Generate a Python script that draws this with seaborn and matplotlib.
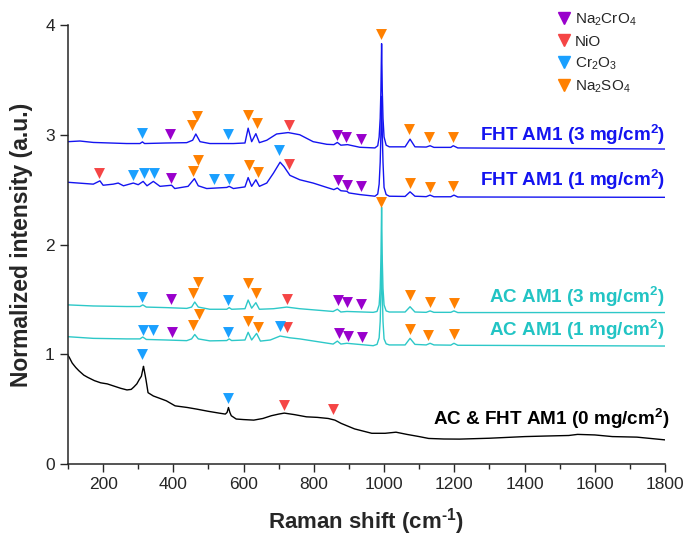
import matplotlib
matplotlib.use("Agg")
import matplotlib.pyplot as plt
import seaborn as sns
from matplotlib.lines import Line2D

# ---------------- data ----------------
# AC & FHT AM1 (0 mg/cm2) - black
bare_x = [100, 104, 112, 122, 131, 145, 156, 175, 193, 212, 231, 250, 268, 280, 287, 296, 303, 309, 313, 315,
          318, 322, 328, 343, 360, 380, 405, 440, 467, 500, 530, 548, 553, 557, 561, 565, 579, 600, 629, 655,
          679, 700, 716, 745, 779, 810, 841, 860, 878, 916, 965, 1003, 1034, 1065, 1100, 1127, 1170, 1215,
          1300, 1401, 1460, 1526, 1551, 1600, 1650, 1720, 1800]
bare_y = [0.99, 0.97, 0.92, 0.88, 0.85, 0.81, 0.79, 0.76, 0.74, 0.73, 0.71, 0.69, 0.675, 0.68, 0.70, 0.73, 0.77,
          0.80, 0.86, 0.89, 0.84, 0.77, 0.65, 0.62, 0.60, 0.576, 0.53, 0.515, 0.50, 0.48, 0.464, 0.455, 0.47,
          0.515, 0.47, 0.44, 0.41, 0.405, 0.40, 0.415, 0.44, 0.455, 0.464, 0.45, 0.43, 0.425, 0.415, 0.40,
          0.37, 0.32, 0.28, 0.28, 0.29, 0.27, 0.25, 0.233, 0.228, 0.227, 0.235, 0.25, 0.255, 0.26, 0.27, 0.265,
          0.25, 0.245, 0.22]

# AC AM1 (1 mg/cm2) - turquoise
ac1_x = [100, 172, 267, 305, 313, 323, 380, 438, 452, 461, 471, 504, 552, 559, 566, 604, 613, 623, 637, 648,
         676, 704, 732, 760, 855, 867, 877, 894, 969, 980, 986, 989, 991, 993, 995, 997, 1000, 1006, 1015,
         1060, 1074, 1088, 1120, 1131, 1142, 1190, 1199, 1210, 1800]
ac1_y = [1.16, 1.145, 1.14, 1.14, 1.157, 1.135, 1.13, 1.124, 1.14, 1.18, 1.14, 1.122, 1.125, 1.14, 1.125, 1.13,
         1.20, 1.13, 1.19, 1.12, 1.13, 1.166, 1.15, 1.14, 1.093, 1.12, 1.093, 1.10, 1.078, 1.09, 1.15, 1.3,
         1.55, 1.90, 1.55, 1.3, 1.14, 1.095, 1.085, 1.085, 1.145, 1.09, 1.085, 1.10, 1.085, 1.083, 1.10,
         1.082, 1.075]

# AC AM1 (3 mg/cm2) - turquoise
ac3_x = [100, 172, 267, 305, 313, 323, 380, 438, 452, 461, 471, 504, 552, 559, 566, 604, 613, 623, 635, 645,
         685, 723, 760, 855, 867, 877, 894, 969, 980, 986, 989, 991, 992, 993, 994, 995, 997, 1000, 1006,
         1015, 1060, 1074, 1088, 1120, 1131, 1142, 1190, 1199, 1210, 1800]
ac3_y = [1.45, 1.44, 1.435, 1.435, 1.45, 1.43, 1.425, 1.418, 1.43, 1.476, 1.43, 1.41, 1.41, 1.425, 1.41, 1.415,
         1.494, 1.42, 1.47, 1.41, 1.415, 1.43, 1.415, 1.39, 1.41, 1.385, 1.39, 1.382, 1.39, 1.45, 1.6, 1.85,
         2.1, 2.34, 2.1, 1.85, 1.6, 1.45, 1.395, 1.385, 1.385, 1.433, 1.385, 1.382, 1.395, 1.382, 1.382,
         1.395, 1.38, 1.38]

# FHT AM1 (1 mg/cm2) - blue
fht1_x = [100, 172, 191, 200, 229, 243, 258, 286, 300, 314, 325, 343, 362, 395, 404, 442, 460, 471, 495, 552,
          559, 571, 604, 613, 623, 635, 645, 666, 685, 704, 715, 732, 760, 798, 837, 857, 867, 877, 894, 900,
          931, 974, 982, 986, 989, 991, 993, 995, 997, 1000, 1006, 1015, 1060, 1074, 1088, 1120, 1131, 1142,
          1190, 1199, 1210, 1800]
fht1_y = [2.567, 2.55, 2.58, 2.54, 2.55, 2.56, 2.535, 2.56, 2.545, 2.575, 2.535, 2.575, 2.53, 2.54, 2.51, 2.53,
          2.60, 2.535, 2.51, 2.52, 2.53, 2.51, 2.525, 2.61, 2.53, 2.59, 2.53, 2.56, 2.65, 2.75, 2.71, 2.63,
          2.59, 2.56, 2.52, 2.50, 2.515, 2.49, 2.485, 2.47, 2.455, 2.44, 2.46, 2.55, 2.75, 3.0, 3.35, 3.0,
          2.75, 2.52, 2.455, 2.44, 2.438, 2.48, 2.44, 2.436, 2.45, 2.435, 2.435, 2.45, 2.433, 2.43]

# FHT AM1 (3 mg/cm2) - blue
fht3_x = [100, 134, 172, 267, 305, 312, 318, 380, 438, 455, 464, 476, 504, 571, 604, 613, 623, 635, 645, 666,
          694, 727, 760, 798, 837, 857, 867, 877, 896, 931, 974, 982, 986, 989, 991, 992, 993, 994, 995, 997,
          1000, 1006, 1015, 1060, 1074, 1088, 1120, 1131, 1142, 1190, 1197, 1210, 1800]
fht3_y = [2.937, 2.943, 2.93, 2.92, 2.92, 2.935, 2.92, 2.925, 2.928, 2.95, 3.007, 2.937, 2.92, 2.92, 2.925,
          3.06, 2.937, 3.01, 2.928, 2.95, 3.007, 3.02, 3.0, 2.937, 2.913, 2.91, 2.93, 2.905, 2.91, 2.886,
          2.88, 2.9, 2.98, 3.15, 3.4, 3.62, 3.83, 3.62, 3.4, 3.15, 2.98, 2.905, 2.89, 2.89, 2.96, 2.89,
          2.888, 2.9, 2.885, 2.885, 2.9, 2.88, 2.87]

# peak markers (Raman shift, intensity)
na2cro4_x = [390, 867, 893, 933, 393, 870, 895, 935, 393, 868, 895, 935, 397, 871, 898, 937]
na2cro4_y = [3.007, 3.0, 2.98, 2.96, 2.61, 2.59, 2.54, 2.53, 1.50, 1.49, 1.48, 1.46, 1.205, 1.196, 1.17, 1.16]

nio_x = [730, 187, 730, 723, 725, 714, 856]
nio_y = [3.09, 2.65, 2.73, 1.50, 1.245, 0.54, 0.50]

cr2o3_x = [312, 556, 286, 316, 345, 516, 559, 702, 311, 555, 313, 342, 555, 704, 312, 557]
cr2o3_y = [3.02, 3.007, 2.63, 2.65, 2.65, 2.60, 2.60, 2.86, 1.52, 1.49, 1.22, 1.22, 1.205, 1.257, 1.0, 0.6]

na2so4_x = [454, 467, 612, 639, 990, 1072, 1129, 1197,
            455, 471, 615, 641, 1074, 1131, 1197,
            455, 471, 613, 635, 992, 1074, 1131, 1199,
            457, 473, 613, 640, 1074, 1126, 1199]
na2so4_y = [3.09, 3.17, 3.18, 3.11, 3.92, 3.05, 2.98, 2.98,
            2.67, 2.77, 2.72, 2.66, 2.56, 2.52, 2.53,
            1.555, 1.66, 1.65, 1.555, 2.39, 1.54, 1.48, 1.47,
            1.267, 1.37, 1.306, 1.245, 1.227, 1.175, 1.185]

series_labels = ["FHT AM1 (3 mg/cm$^\\mathbf{2}$)", "FHT AM1 (1 mg/cm$^\\mathbf{2}$)",
                 "AC AM1 (3 mg/cm$^\\mathbf{2}$)", "AC AM1 (1 mg/cm$^\\mathbf{2}$)",
                 "AC & FHT AM1 (0 mg/cm$^\\mathbf{2}$)"]
label_y = [3.0, 2.59, 1.52, 1.22, 0.41]
phase_names = ["Na$_2$CrO$_4$", "NiO", "Cr$_2$O$_3$", "Na$_2$SO$_4$"]

# ---------------- style ----------------
sns.set_style("ticks")
plt.rcParams["font.family"] = ["Liberation Sans", "DejaVu Sans"]
plt.rcParams["mathtext.fontset"] = "custom"
plt.rcParams["mathtext.rm"] = "Liberation Sans"
plt.rcParams["mathtext.it"] = "Liberation Sans:italic"
plt.rcParams["mathtext.bf"] = "Liberation Sans:bold"

BLUE = "#1414F0"
TURQ = "#2DC8C8"
C_PURPLE = "#9900CC"
C_RED = "#F54545"
C_BLUE = "#1AA0FF"
C_ORANGE = "#FF8000"

fig = plt.figure(figsize=(6.86, 5.40), dpi=100)
ax = fig.add_axes([0.0991, 0.1407, 0.8703, 0.8130])

line_kw = dict(estimator=None, sort=False, ax=ax, linewidth=1.0)
sns.lineplot(x=bare_x, y=bare_y, color="black", **line_kw)
sns.lineplot(x=ac1_x, y=ac1_y, color=TURQ, **line_kw)
sns.lineplot(x=ac3_x, y=ac3_y, color=TURQ, **line_kw)
sns.lineplot(x=fht1_x, y=fht1_y, color=BLUE, **line_kw)
sns.lineplot(x=fht3_x, y=fht3_y, color=BLUE, **line_kw)

mk = dict(marker="v", s=62, linewidth=0, ax=ax, zorder=5, legend=False)
sns.scatterplot(x=na2cro4_x, y=na2cro4_y, color=C_PURPLE, **mk)
sns.scatterplot(x=nio_x, y=nio_y, color=C_RED, **mk)
sns.scatterplot(x=cr2o3_x, y=cr2o3_y, color=C_BLUE, **mk)
sns.scatterplot(x=na2so4_x, y=na2so4_y, color=C_ORANGE, **mk)

label_colors = [BLUE, BLUE, "#22C4C4", "#22C4C4", "black"]
label_x = [1800, 1800, 1800, 1800, 1812]
for t, yy, c, xx in zip(series_labels, label_y, label_colors, label_x):
    ax.text(xx, yy, t, color=c, fontsize=13.6, fontweight="bold", ha="right", va="center")

ax.set_xlim(100, 1800)
ax.set_ylim(0, 4)
ax.set_xticks([200, 400, 600, 800, 1000, 1200, 1400, 1600, 1800])
ax.set_xticks(range(100, 1801, 100), minor=True)
ax.set_yticks([0, 1, 2, 3, 4])
ax.tick_params(axis="both", which="major", direction="out", length=6, width=1.0, labelsize=12.5)
ax.tick_params(axis="x", which="minor", direction="out", length=3.5, width=1.0)
for s in ["left", "bottom"]:
    ax.spines[s].set_linewidth(1.1)
sns.despine(ax=ax)

ax.set_xlabel("Raman shift (cm$^\\mathbf{\u2010 1}$)", fontsize=16, fontweight="bold", labelpad=10)
ax.set_ylabel("Normalized intensity (a.u.)", fontsize=16.5, fontweight="bold", labelpad=9)

handles = [Line2D([], [], marker="v", color=c, linestyle="none", markersize=8)
           for c in [C_PURPLE, C_RED, C_BLUE, C_ORANGE]]
ax.legend(handles, phase_names, loc="upper left", bbox_to_anchor=(0.805, 1.045), frameon=False,
          fontsize=11, handletextpad=0.1, labelspacing=0.45, borderaxespad=0, handlelength=1.2)

fig.savefig("out.png", dpi=100)
